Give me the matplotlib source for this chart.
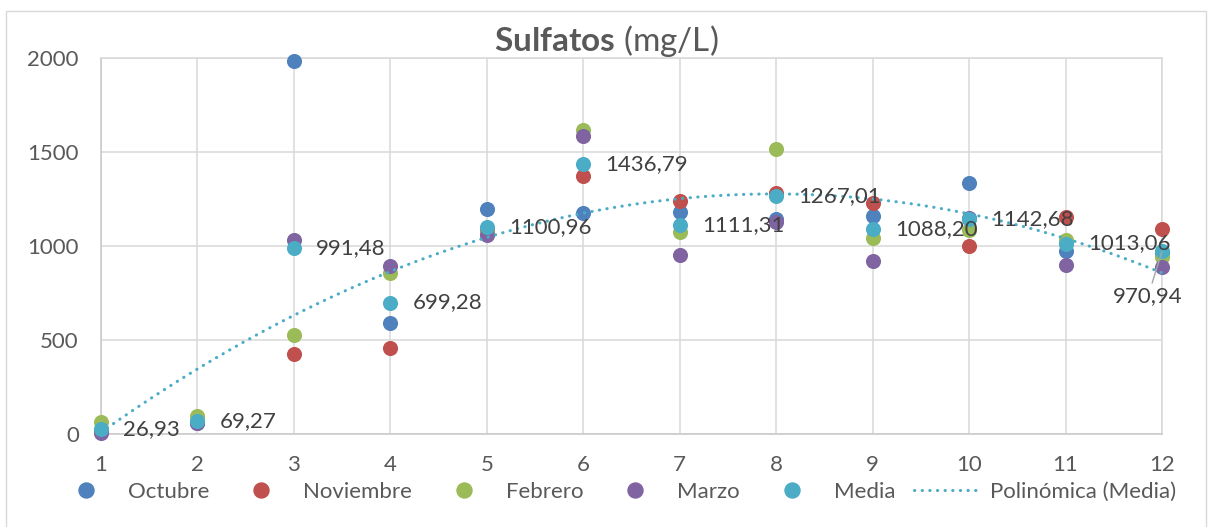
import numpy as np
import matplotlib
matplotlib.use("Agg")
import matplotlib.pyplot as plt
from matplotlib.lines import Line2D
from matplotlib.patches import Rectangle

# ------------------------------------------------------------
# Data
# ------------------------------------------------------------
puntos = [1, 2, 3, 4, 5, 6, 7, 8, 9, 10, 11, 12]

octubre   = [20, 60, 1983, 590, 1197, 1177, 1182, 1145, 1160, 1337, 972, 962]
noviembre = [17, 64, 425, 456, 1079, 1372, 1238, 1280, 1231, 1002, 1152, 1089]
febrero   = [65, 96, 527, 856, 1070, 1615, 1075, 1515, 1042, 1085, 1030, 943]
marzo     = [6, 57, 1031, 895, 1058, 1583, 950, 1128, 920, 1147, 898, 890]
media     = [26.93, 69.27, 991.48, 699.28, 1100.96, 1436.79,
             1111.31, 1267.01, 1088.20, 1142.68, 1013.06, 970.94]

series = [("Octubre", octubre, "#4F81BD"),
          ("Noviembre", noviembre, "#C0504D"),
          ("Febrero", febrero, "#9BBB59"),
          ("Marzo", marzo, "#8064A2"),
          ("Media", media, "#4BACC6")]

plt.rcParams['font.family'] = ['Lato', 'DejaVu Sans']
plt.rcParams['mathtext.fontset'] = 'custom'
plt.rcParams['mathtext.rm'] = 'Lato'
plt.rcParams['mathtext.bf'] = 'Lato:bold'

W, H = 1208, 527
fs = 16
fig = plt.figure(figsize=(W / 100, H / 100), dpi=100)
ax = fig.add_axes([101 / W, 1 - 434 / H, (1162 - 101) / W, (434 - 58) / H])

txt = "#595959"
grid_c = "#d9d9d9"

# ------------------------------------------------------------
# Marks
# ------------------------------------------------------------
handles = []
for name, vals, col in series:
    ax.scatter(puntos, vals, s=118, color=col, zorder=3, clip_on=False,
               linewidths=0)
    handles.append(Line2D([], [], ls='none', marker='o', ms=10.8,
                          mfc=col, mec=col, label=name))

# polynomial (order 2) trendline of the mean
coef = np.polyfit(puntos, media, 2)
xt = np.linspace(puntos[0], puntos[-1], 300)
ax.plot(xt, np.polyval(coef, xt), color="#4BACC6", lw=2.2,
        ls=(0, (0.1, 2.4)), dash_capstyle='round', zorder=4, clip_on=False)
handles.append(Line2D([], [], color="#4BACC6", lw=2.2, ls=(0, (0.1, 2.4)),
                      dash_capstyle='round', label="Polinómica (Media)"))

# data labels of the mean
for xi, yi in zip(puntos, media):
    lab = f"{yi:.2f}".replace(".", ",")
    if xi == puntos[-1]:
        ax.annotate(lab, (xi, yi), xytext=(-10, -32), textcoords='offset points',
                    ha='center', va='center', fontsize=fs, color="#404040",
                    zorder=5,
                    arrowprops=dict(arrowstyle='-', color="#a6a6a6", lw=1,
                                    shrinkA=0, shrinkB=0))
    else:
        ax.annotate(lab, (xi, yi), xytext=(16, 0), textcoords='offset points',
                    ha='left', va='center', fontsize=fs, color="#404040",
                    zorder=5)

# ------------------------------------------------------------
# Axes styling
# ------------------------------------------------------------
ax.set_xlim(1, 12)
ax.set_ylim(0, 2000)
ax.set_xticks(puntos)
ax.set_yticks([0, 500, 1000, 1500, 2000])
ax.grid(True, color=grid_c, lw=1.1, zorder=0)
ax.set_axisbelow(True)
for side in ['top', 'right']:
    ax.spines[side].set_color(grid_c)
    ax.spines[side].set_linewidth(1.1)
for side in ['left', 'bottom']:
    ax.spines[side].set_color("#c8c8c8")
    ax.spines[side].set_linewidth(1.1)
ax.tick_params(axis='x', length=0, pad=15, labelsize=fs, labelcolor=txt)
ax.tick_params(axis='y', length=0, pad=16, labelsize=fs, labelcolor=txt)

# title
fig.text(606 / W, 1 - 51 / H, r"$\mathbf{Sulfatos}$ (mg/L)", ha='center',
         va='baseline', fontsize=24, color=txt)

# legend
fig.legend(handles=handles, loc='center', bbox_to_anchor=(0.508, 1 - 492 / H),
           ncol=6, frameon=False, fontsize=fs, labelcolor=txt,
           handlelength=3.06, handletextpad=0.36, columnspacing=0.81,
           borderpad=0, borderaxespad=0)

# chart frame
fig.patches.append(Rectangle((6 / W, -0.1), 1200 / W, 1.1 - 11 / H,
                             transform=fig.transFigure, fill=False,
                             edgecolor=grid_c, lw=1))

fig.savefig("out.png", dpi=100)
